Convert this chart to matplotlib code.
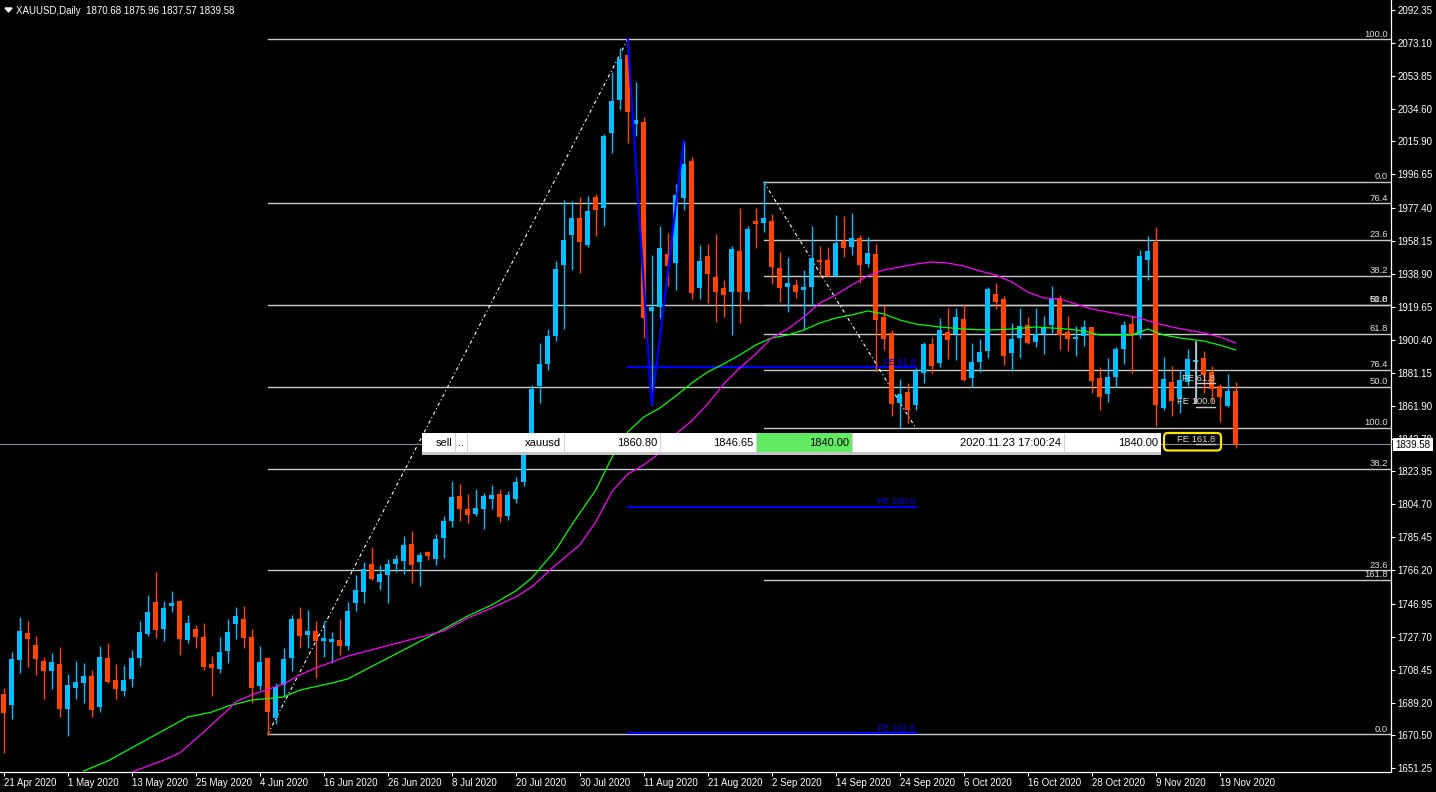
import matplotlib
matplotlib.use("Agg")
import matplotlib.pyplot as plt
from matplotlib.patches import Rectangle, FancyBboxPatch, Polygon
from matplotlib.transforms import Affine2D

plt.rcParams['font.family'] = ['Liberation Sans', 'DejaVu Sans']

# ------------------------------------------------------------------ data
title_text = "XAUUSD,Daily  1870.68 1875.96 1837.57 1839.58"

date_labels = ["21 Apr 2020", "1 May 2020", "13 May 2020", "25 May 2020", "4 Jun 2020",
               "16 Jun 2020", "26 Jun 2020", "8 Jul 2020", "20 Jul 2020", "30 Jul 2020",
               "11 Aug 2020", "21 Aug 2020", "2 Sep 2020", "14 Sep 2020", "24 Sep 2020",
               "6 Oct 2020", "16 Oct 2020", "28 Oct 2020", "9 Nov 2020", "19 Nov 2020"]
date_label_bars = [0, 8, 16, 24, 32, 40, 48, 56, 64, 72, 80, 88, 96, 104, 112, 120, 128, 136, 144, 152]

price_ticks = [2092.35, 2073.10, 2053.85, 2034.60, 2015.90, 1996.65, 1977.40, 1958.15,
               1938.90, 1919.65, 1900.40, 1881.15, 1861.90, 1842.70, 1823.95, 1804.70,
               1785.45, 1766.20, 1746.95, 1727.70, 1708.45, 1689.20, 1670.50, 1651.25]

opens = [
    1694.3, 1687.9, 1714.1, 1729.8, 1722.8, 1713.5, 1707.7, 1711.8, 1685.6, 1697.8,
    1700.7, 1704.8, 1686.7, 1715.3, 1702.5, 1696.1, 1703.0, 1715.3, 1729.2, 1747.9,
    1732.1, 1745.5, 1748.4, 1725.7, 1732.1, 1727.5, 1711.8, 1708.9, 1719.3, 1735.1,
    1738.0, 1727.5, 1699.0, 1715.3, 1680.3, 1699.5, 1715.3, 1738.0, 1728.7, 1731.0,
    1725.2, 1724.6, 1725.7, 1722.2, 1747.4, 1753.7, 1769.8, 1759.7, 1763.8, 1770.2,
    1771.9, 1781.6, 1771.3, 1776.8, 1773.1, 1785.3, 1795.2, 1809.7, 1802.0, 1799.3,
    1802.2, 1807.8, 1810.7, 1798.1, 1808.0, 1817.7, 1842.0, 1873.5, 1886.4, 1902.8,
    1944.0, 1961.4, 1971.3, 1955.6, 1983.5, 1977.1, 2020.8, 2040.0, 2066.1, 2026.0,
    2027.4, 1917.4, 1919.7, 1950.4, 1944.9, 1983.0, 2004.5, 1930.8, 1949.4, 1937.0,
    1930.4, 1928.4, 1952.1, 1928.4, 1969.6, 1968.6, 1969.6, 1942.0, 1931.4, 1932.3,
    1929.4, 1931.4, 1946.9, 1946.9, 1937.8, 1957.9, 1954.6, 1959.9, 1944.6, 1950.4,
    1913.9, 1904.2, 1863.5, 1869.9, 1862.5, 1881.3, 1897.8, 1886.7, 1905.2, 1903.6,
    1912.3, 1878.0, 1887.3, 1894.1, 1927.1, 1924.1, 1893.0, 1901.7, 1908.8, 1899.3,
    1903.6, 1909.0, 1924.6, 1904.8, 1901.1, 1902.7, 1907.7, 1878.0, 1868.7, 1879.0,
    1894.9, 1909.4, 1903.2, 1946.9, 1957.5, 1860.6, 1875.7, 1866.4, 1876.1, 1887.5,
    1889.6, 1881.5, 1873.7, 1862.1, 1870.68]

highs = [
    1697.6, 1718.6, 1738.9, 1736.8, 1727.9, 1716.0, 1718.2, 1721.5, 1706.0, 1713.5,
    1712.4, 1708.3, 1722.2, 1724.0, 1711.8, 1711.2, 1719.9, 1736.8, 1751.9, 1765.3,
    1748.4, 1754.3, 1749.0, 1740.3, 1734.5, 1735.6, 1716.4, 1727.5, 1738.0, 1744.9,
    1745.5, 1732.1, 1722.2, 1716.0, 1700.7, 1721.1, 1740.3, 1744.9, 1743.2, 1736.8,
    1736.8, 1730.4, 1738.0, 1747.9, 1763.4, 1771.1, 1779.9, 1769.4, 1772.7, 1775.2,
    1786.1, 1789.2, 1777.1, 1777.5, 1787.6, 1798.1, 1818.3, 1816.5, 1810.7, 1813.6,
    1811.3, 1815.7, 1813.4, 1812.4, 1820.8, 1843.5, 1874.1, 1898.8, 1906.9, 1946.3,
    1981.8, 1981.2, 1983.7, 1984.1, 1985.3, 2020.2, 2056.3, 2070.2, 2075.5, 2050.4,
    2030.3, 1949.8, 1966.6, 1962.4, 1991.1, 2016.1, 2006.7, 1955.6, 1956.2, 1962.0,
    1935.2, 1955.2, 1976.9, 1966.9, 1977.3, 1992.9, 1973.5, 1951.3, 1948.8, 1935.8,
    1941.1, 1966.7, 1955.0, 1954.6, 1973.1, 1972.5, 1974.0, 1961.4, 1960.5, 1956.2,
    1920.7, 1906.2, 1877.4, 1875.1, 1883.8, 1899.0, 1902.3, 1912.9, 1918.7, 1918.7,
    1921.3, 1898.4, 1900.7, 1931.0, 1933.3, 1925.9, 1910.0, 1918.7, 1913.9, 1919.1,
    1914.3, 1931.8, 1926.5, 1914.3, 1908.5, 1912.0, 1908.1, 1884.8, 1889.6, 1896.1,
    1911.6, 1914.3, 1952.7, 1961.0, 1965.9, 1890.6, 1885.4, 1882.9, 1895.1, 1899.4,
    1893.9, 1885.4, 1874.7, 1880.3, 1875.96]

lows = [
    1659.8, 1679.8, 1706.3, 1710.2, 1705.4, 1691.4, 1697.2, 1681.1, 1669.9, 1691.4,
    1689.1, 1681.1, 1684.0, 1700.7, 1691.4, 1693.1, 1698.4, 1710.6, 1728.1, 1726.9,
    1725.2, 1742.0, 1717.0, 1724.0, 1721.1, 1708.3, 1693.1, 1706.5, 1712.4, 1726.3,
    1721.1, 1689.1, 1696.6, 1670.6, 1676.9, 1692.4, 1707.7, 1721.1, 1721.1, 1703.6,
    1715.8, 1712.4, 1717.0, 1719.9, 1742.8, 1747.4, 1760.8, 1754.8, 1747.4, 1765.5,
    1764.3, 1759.1, 1757.4, 1772.5, 1769.6, 1773.7, 1791.5, 1795.2, 1794.0, 1798.1,
    1790.5, 1802.0, 1794.4, 1795.8, 1805.7, 1815.4, 1836.0, 1863.8, 1882.9, 1900.0,
    1906.5, 1941.1, 1939.5, 1954.6, 1960.8, 1966.6, 2009.1, 2034.1, 2014.9, 2019.0,
    1901.3, 1862.5, 1912.9, 1931.5, 1929.6, 1976.2, 1924.3, 1924.0, 1922.0, 1911.0,
    1913.9, 1903.2, 1910.0, 1923.4, 1954.1, 1963.0, 1932.9, 1922.2, 1916.4, 1924.6,
    1906.1, 1920.3, 1936.8, 1937.2, 1937.2, 1948.8, 1949.8, 1933.3, 1943.0, 1882.5,
    1894.5, 1856.1, 1848.9, 1851.8, 1859.5, 1875.1, 1880.9, 1884.8, 1889.1, 1888.7,
    1876.5, 1873.2, 1881.9, 1890.0, 1918.2, 1886.0, 1882.5, 1889.6, 1897.8, 1896.4,
    1892.2, 1904.6, 1894.5, 1894.1, 1891.2, 1897.0, 1869.3, 1859.6, 1864.4, 1873.2,
    1886.3, 1881.3, 1901.3, 1935.3, 1850.3, 1859.6, 1856.3, 1857.7, 1873.7, 1864.0,
    1869.3, 1864.0, 1852.4, 1861.5, 1837.57]

closes = [
    1683.5, 1714.7, 1731.0, 1726.3, 1714.7, 1707.9, 1712.7, 1685.6, 1699.5, 1701.3,
    1704.8, 1685.2, 1715.8, 1701.3, 1697.2, 1702.5, 1715.3, 1730.4, 1742.0, 1731.6,
    1744.4, 1747.3, 1726.3, 1735.6, 1727.5, 1710.0, 1709.4, 1718.7, 1730.4, 1739.7,
    1726.9, 1697.8, 1712.9, 1683.8, 1698.4, 1714.7, 1738.0, 1728.1, 1731.0, 1725.2,
    1726.9, 1726.3, 1722.2, 1742.6, 1754.8, 1767.0, 1761.4, 1764.1, 1769.8, 1772.9,
    1781.0, 1769.6, 1775.2, 1774.8, 1784.7, 1795.2, 1809.0, 1802.0, 1798.7, 1802.6,
    1809.6, 1810.1, 1797.1, 1810.1, 1817.7, 1842.0, 1871.8, 1886.3, 1902.8, 1941.6,
    1958.5, 1971.3, 1957.4, 1975.4, 1975.9, 2019.0, 2039.4, 2063.8, 2033.0, 2028.3,
    1912.9, 1919.7, 1954.0, 1943.6, 1984.7, 2002.8, 1927.7, 1946.3, 1938.9, 1928.4,
    1926.5, 1953.3, 1928.4, 1964.9, 1967.8, 1971.5, 1943.0, 1930.4, 1933.3, 1928.1,
    1931.4, 1948.2, 1945.5, 1937.8, 1956.6, 1953.7, 1959.9, 1944.2, 1950.8, 1912.0,
    1900.7, 1863.1, 1868.9, 1859.6, 1882.5, 1897.8, 1885.4, 1906.1, 1900.3, 1913.5,
    1877.0, 1887.7, 1893.5, 1930.0, 1922.6, 1891.0, 1901.0, 1908.5, 1898.8, 1903.6,
    1907.7, 1924.6, 1903.2, 1900.9, 1901.9, 1907.7, 1876.6, 1866.9, 1878.6, 1894.9,
    1909.0, 1902.7, 1949.2, 1952.1, 1862.5, 1877.6, 1864.8, 1877.0, 1889.3, 1888.7,
    1879.9, 1871.8, 1866.9, 1870.7, 1839.58]

ma_fast_bars = [10, 13, 18, 23, 26, 28, 31, 35, 37, 41, 43, 55, 58, 61, 64, 66, 69, 71, 74, 76,
                78, 80, 82, 84, 86, 88, 90, 92, 94, 96, 98, 100, 102, 104, 106, 108, 110, 112, 114, 117,
                120, 123, 126, 129, 133, 135, 137, 141, 143, 145, 147, 150, 152, 154]
ma_fast = [1649.5, 1655.3, 1668.1, 1680.9, 1683.8, 1687.3, 1690.8, 1692.6, 1696.6, 1700.7,
           1703.1, 1732.1, 1739.7, 1746.1, 1754.3, 1761.8, 1778.1, 1792.7, 1813.0, 1831.7,
           1846.8, 1855.5, 1860.7, 1867.7, 1875.3, 1881.7, 1886.4, 1891.6, 1897.4, 1901.5,
           1903.2, 1906.1, 1910.2, 1913.1, 1914.9, 1917.2, 1915.5, 1912.0, 1909.6, 1907.9,
           1906.7, 1906.1, 1906.7, 1907.9, 1906.7, 1905.6, 1903.2, 1903.2, 1906.7, 1903.2,
           1901.5, 1899.7, 1897.4, 1894.5]

ma_slow_bars = [16, 20, 22, 25, 28, 29, 31, 35, 37, 39, 41, 43, 55, 58, 61, 64, 66, 69, 72, 74,
                76, 78, 80, 82, 84, 86, 88, 90, 92, 94, 96, 98, 100, 102, 104, 106, 108, 110, 112, 114,
                116, 118, 120, 122, 124, 126, 128, 130, 132, 134, 136, 138, 140, 142, 144, 146, 148, 150, 152, 154]
ma_slow = [1648.8, 1655.9, 1660.0, 1672.2, 1685.0, 1689.7, 1693.8, 1700.2, 1705.4, 1709.5,
           1712.9, 1716.4, 1731.0, 1738.5, 1744.4, 1750.8, 1756.6, 1769.4, 1781.0, 1794.4,
           1811.9, 1822.3, 1827.6, 1834.6, 1845.6, 1853.2, 1863.1, 1874.7, 1884.0, 1892.2,
           1901.5, 1906.7, 1913.7, 1921.8, 1926.5, 1932.3, 1937.6, 1941.1, 1942.8, 1944.5,
           1945.7, 1945.1, 1943.4, 1940.5, 1938.1, 1934.1, 1928.2, 1924.8, 1924.2, 1921.3,
           1918.4, 1916.6, 1914.9, 1913.1, 1910.2, 1907.9, 1906.1, 1904.4, 1902.1, 1898.6]

# Fibonacci retracement 1 (Jun 5 low -> Aug 7 high)
fib1_bars = [33, 78]
fib1_prices = [1670.9, 2075.2]
fib1_levels = [0.0, 23.6, 38.2, 50.0, 61.8, 76.4, 100.0]
# Fibonacci retracement 2 (Sep 1 high -> late Sep low)
fib2_bars = [95, 114]
fib2_prices = [1992.3, 1849.1]
fib2_levels = [0.0, 23.6, 38.2, 50.0, 61.8, 76.4, 100.0, 161.8]
# Fibonacci expansion 1 (blue)
fe1_bars = [78, 81, 85]
fe1_prices = [2075.5, 1862.5, 2016.1]
fe1_end_bar = 114
# Fibonacci expansion 2 (white, short)
fe2_bars = [149, 149, 149]
fe2_prices = [1899.4, 1863.9, 1897.0]
fe2_end_bar = 151.4
fe_levels = [61.8, 100.0, 161.8]

bid_price = 1839.58
trade_row = ["sell", "..", "xauusd", "1860.80", "1846.65", "1840.00", "2020.11.23 17:00:24", "1840.00"]

assert len(opens) == len(highs) == len(lows) == len(closes) == 155
assert len(ma_fast_bars) == len(ma_fast) and len(ma_slow_bars) == len(ma_slow)

# ------------------------------------------------------------------ style
W, H = 1436, 792
BG = 'black'
BULL = '#00BFFF'
BEAR = '#FF4500'
FIBC = '#C8C8C8'
TXT = 'white'

fig = plt.figure(figsize=(W / 100, H / 100), dpi=100, facecolor=BG)
PLOT_R, PLOT_B = 1391, 772
ax = fig.add_axes([0, (H - PLOT_B) / H, PLOT_R / W, PLOT_B / H], facecolor=BG)
pix = Affine2D().scale(1.0 / W, -1.0 / H).translate(0, 1) + fig.transFigure

XMIN, XMAX = -0.4625, 173.41
YMIN, YMAX = 1648.94, 2098.17
ax.set_xlim(XMIN, XMAX)
ax.set_ylim(YMIN, YMAX)

# candles
n = len(opens)
idx = list(range(n))
cols = [BULL if c >= o else BEAR for o, c in zip(opens, closes)]
ax.vlines(idx, lows, highs, colors=cols, lw=1.0, zorder=3)
bottoms = [min(o, c) for o, c in zip(opens, closes)]
heights = [max(abs(c - o), 0.6) for o, c in zip(opens, closes)]
ax.bar(idx, heights, bottom=bottoms, width=0.62, color=cols, linewidth=0, zorder=3)

# moving averages
ax.plot(ma_fast_bars, ma_fast, color='#00FF00', lw=0.9, zorder=4)
ax.plot(ma_slow_bars, ma_slow, color='#FF00FF', lw=0.9, zorder=4)

dash = (0, (3, 2.5, 1, 2.5))


def level_label(x, y, s, color, dx=-2):
    ax.annotate(s, xy=(x, y), xytext=(dx, 0.5), textcoords='offset points',
                ha='right', va='bottom', color=color, fontsize=6.8, zorder=5)


# fib 1
lo1, hi1 = fib1_prices
for L in fib1_levels:
    p = lo1 + L / 100.0 * (hi1 - lo1)
    ax.plot([fib1_bars[0], XMAX], [p, p], color=FIBC, lw=1.0, zorder=1)
    level_label(XMAX, p, f"{L:.1f}", '#E0E0E0')
ax.plot(fib1_bars, fib1_prices, color='white', lw=0.8, linestyle=dash, zorder=2)

# fib 2
hi2, lo2 = fib2_prices
for L in fib2_levels:
    p = hi2 - L / 100.0 * (hi2 - lo2)
    ax.plot([fib2_bars[0], XMAX], [p, p], color=FIBC, lw=1.0, zorder=1)
    level_label(XMAX, p, f"{L:.1f}", '#E0E0E0')
ax.plot(fib2_bars, fib2_prices, color='white', lw=0.8, linestyle=dash, zorder=2)

# FE 1 (blue)
A, B, C = fe1_prices
ax.plot(fe1_bars, fe1_prices, color='#0000FF', lw=1.6, zorder=4.5)
for L in fe_levels:
    p = C - L / 100.0 * (A - B)
    ax.plot([fe1_bars[0], fe1_end_bar], [p, p], color='#0000FF', lw=1.5, zorder=2)
    level_label(fe1_end_bar, p, f"FE {L:.1f}", '#0000FF', dx=0)

# FE 2 (white)
A, B, C = fe2_prices
ax.plot([fe2_bars[0], fe2_bars[0]], [A, B], color='#C8C8C8', lw=1.2, zorder=4)
for L in fe_levels:
    p = C - L / 100.0 * (A - B)
    ax.plot([fe2_bars[0], fe2_end_bar], [p, p], color='#C8C8C8', lw=1.0, zorder=4)
    level_label(fe2_end_bar, p, f"FE {L:.1f}", '#D8D8D8', dx=0)

# bid line
ax.axhline(bid_price, color='#8090A0', lw=0.8, zorder=2)

# axes styling
for s in ['top', 'left']:
    ax.spines[s].set_visible(False)
for s in ['right', 'bottom']:
    ax.spines[s].set_color('white')
    ax.spines[s].set_linewidth(0.9)
ax.yaxis.tick_right()
ax.set_yticks(price_ticks)
ax.set_yticklabels([f"{v:.2f}" for v in price_ticks])
ax.tick_params(axis='y', colors='white', labelcolor=TXT, length=3, width=0.8, pad=1.5, labelsize=7)
ax.set_xticks(date_label_bars)
ax.set_xticklabels(date_labels)
ax.tick_params(axis='x', colors='white', labelcolor=TXT, length=3, width=0.8, pad=1.0, labelsize=7)
for lb in ax.get_xticklabels():
    lb.set_ha('left')
ax.set_xlim(XMIN, XMAX)
ax.set_ylim(YMIN, YMAX)

# title
fig.add_artist(Polygon([(5, 8), (12, 8), (8.5, 12)], closed=True, color='white', transform=pix))
fig.text(16, 10.5, title_text, transform=pix, color='white', fontsize=7, va='center', ha='left')

# trade row panel
cells = [422, 455, 467, 564, 660, 756, 852, 1064, 1161]
ty0, ty1 = 432.5, 452
fig.add_artist(Rectangle((cells[0], ty1), cells[-1] - cells[0], 2.5, transform=pix,
                         facecolor='#C4C4C4', edgecolor='none', zorder=5))
fig.add_artist(Rectangle((cells[0], ty0), cells[-1] - cells[0], ty1 - ty0, transform=pix,
                         facecolor='white', edgecolor='none', zorder=5))
fig.add_artist(Rectangle((cells[5] + 1, ty0), cells[6] - cells[5] - 1.5, ty1 - ty0, transform=pix,
                         facecolor='#62EA62', edgecolor='none', zorder=5.5))
for cx in cells[1:-1]:
    fig.add_artist(plt.Line2D([cx, cx], [ty0, ty1], transform=pix, color='#D4D4D4', lw=0.8, zorder=5.6))
for k, s in enumerate(trade_row):
    fig.text(cells[k + 1] - 3, (ty0 + ty1) / 2 + 0.5, s, transform=pix, color='black',
             fontsize=8, ha='right', va='center', zorder=6)

# highlight box
fig.add_artist(FancyBboxPatch((1164, 433), 57, 17.5, boxstyle="round,pad=0,rounding_size=4",
                              transform=pix, facecolor='none', edgecolor='#FFE400', lw=1.6, zorder=6))

# current price marker on axis
fig.add_artist(Rectangle((1393, 438), 40, 13, transform=pix, facecolor='white', edgecolor='none', zorder=6))
fig.text(1413, 444.8, f"{bid_price:.2f}", transform=pix, color='black', fontsize=7,
         ha='center', va='center', zorder=7)

fig.savefig('out.png', dpi=100, facecolor=BG)
